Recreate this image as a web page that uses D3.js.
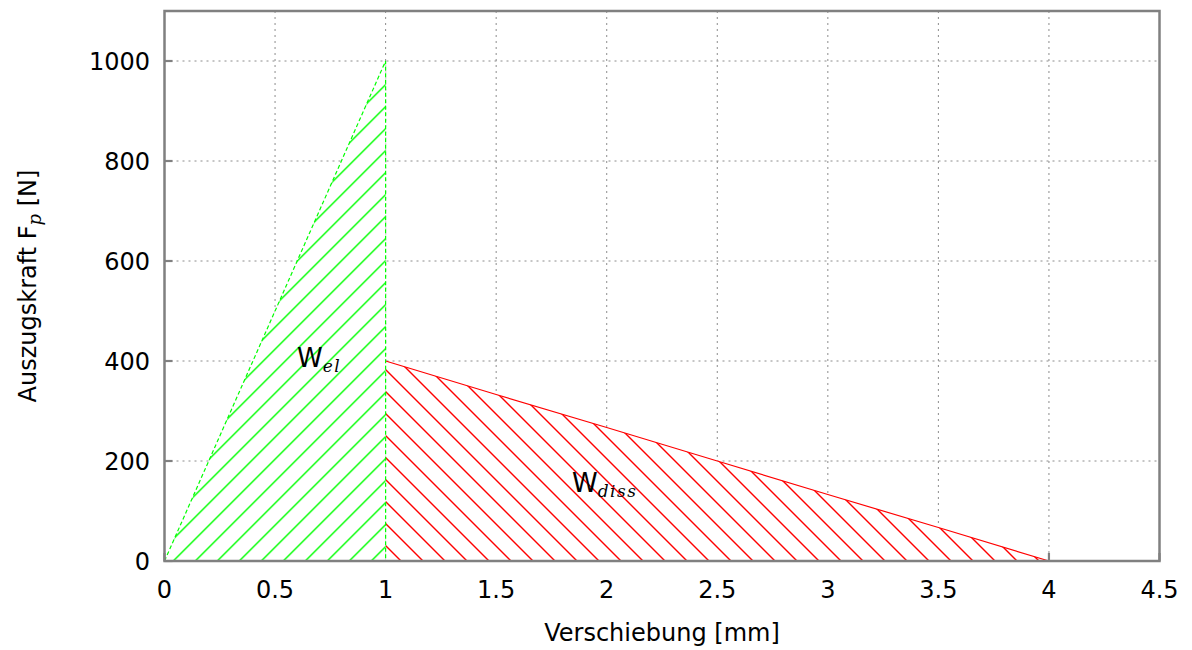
<!DOCTYPE html>
<html>
<head>
<meta charset="utf-8">
<script src="https://cdn.jsdelivr.net/npm/d3@7"></script>
<style>
  html, body { margin: 0; padding: 0; background: #fff; }
  svg { display: block; }
  text { font-family: "DejaVu Sans", sans-serif; fill: #000; }
</style>
</head>
<body>
<svg id="chart" width="1192" height="650"></svg>
<script>
// ---- data ----
const xTicks = [0, 0.5, 1, 1.5, 2, 2.5, 3, 3.5, 4, 4.5];
const xTickLabels = ["0", "0.5", "1", "1.5", "2", "2.5", "3", "3.5", "4", "4.5"];
const yTicks = [0, 200, 400, 600, 800, 1000];
const yTickLabels = ["0", "200", "400", "600", "800", "1000"];
// elastic part (green)
const elX = [0, 1, 1];
const elY = [0, 1000, 0];
// dissipative part (red)
const dissX = [1, 1.5, 2, 2.5, 3, 3.5, 4];
const dissY = [400, 333, 267, 200, 133, 67, 0];
const xLabel = "Verschiebung [mm]";
const yLabelMain = "Auszugskraft F";
const yLabelSub = "p";
const yLabelEnd = " [N]";

// ---- layout ----
const svg = d3.select("#chart");
const L = 164.5, R = 1159.5, T = 11, B = 561;
const x = d3.scaleLinear().domain([0, 4.5]).range([L, R]);
const y = d3.scaleLinear().domain([0, 1100]).range([B, T]);
const gray = "#808080";
const green = "#00ff00";
const red = "#ff0000";

// patterns
const defs = svg.append("defs");
const P = 22;
const pg = defs.append("pattern").attr("id", "hatchGreen")
  .attr("patternUnits", "userSpaceOnUse").attr("width", P).attr("height", P)
  .attr("patternTransform", "translate(8.3,0)");
[[-P/2, P/2, P/2, -P/2], [0, P, P, 0], [P/2, 3*P/2, 3*P/2, P/2]].forEach(s => {
  pg.append("line").attr("x1", s[0]).attr("y1", s[1]).attr("x2", s[2]).attr("y2", s[3])
    .attr("stroke", green).attr("stroke-width", 1.4);
});
const pr = defs.append("pattern").attr("id", "hatchRed")
  .attr("patternUnits", "userSpaceOnUse").attr("width", P).attr("height", P)
  .attr("patternTransform", "translate(16,0)");
[[-P/2, P/2, P/2, 3*P/2], [0, 0, P, P], [P/2, -P/2, 3*P/2, P/2]].forEach(s => {
  pr.append("line").attr("x1", s[0]).attr("y1", s[1]).attr("x2", s[2]).attr("y2", s[3])
    .attr("stroke", red).attr("stroke-width", 1.4);
});

// grid
const grid = svg.append("g");
xTicks.filter(v => v > 0 && v < 4.5).forEach(v => {
  grid.append("line").attr("x1", x(v)).attr("x2", x(v)).attr("y1", T).attr("y2", B)
    .attr("stroke", "#8c8c8c").attr("stroke-width", 1).attr("stroke-dasharray", "2,4");
});
yTicks.filter(v => v > 0).forEach(v => {
  grid.append("line").attr("x1", L).attr("x2", R).attr("y1", y(v)).attr("y2", y(v))
    .attr("stroke", "#8c8c8c").attr("stroke-width", 1).attr("stroke-dasharray", "2,4");
});

// ticks (inward)
const ticks = svg.append("g").attr("stroke", gray).attr("stroke-width", 2.2);
yTicks.forEach(v => ticks.append("line").attr("x1", L).attr("x2", L + 8).attr("y1", y(v)).attr("y2", y(v)));
xTicks.forEach(v => ticks.append("line").attr("x1", x(v)).attr("x2", x(v)).attr("y1", B).attr("y2", B - 8));

// areas
const line = d3.line().x(d => x(d[0])).y(d => y(d[1]));
const elPts = elX.map((v, i) => [v, elY[i]]);
const dissPts = dissX.map((v, i) => [v, dissY[i]]);
const dissPoly = [[1, 0]].concat(dissPts);

svg.append("path").attr("d", line(dissPoly) + "Z").attr("fill", "#fff");
svg.append("path").attr("d", line(dissPoly) + "Z").attr("fill", "url(#hatchRed)");
svg.append("path").attr("d", line(elPts) + "Z").attr("fill", "#fff");
svg.append("path").attr("d", line(elPts) + "Z").attr("fill", "url(#hatchGreen)");

// outlines
svg.append("path").attr("d", line(dissPts)).attr("fill", "none").attr("stroke", red).attr("stroke-width", 1.2);
svg.append("path").attr("d", line([[0, 0], [1, 0]])).attr("fill", "none").attr("stroke", red).attr("stroke-width", 1.2);
svg.append("path").attr("d", line([[0, 0], [1, 1000], [1, 0], [4, 0]])).attr("fill", "none")
  .attr("stroke", green).attr("stroke-width", 1.2).attr("stroke-dasharray", "4,2.5");

// frame
svg.append("rect").attr("x", L).attr("y", T).attr("width", R - L).attr("height", B - T)
  .attr("fill", "none").attr("stroke", gray).attr("stroke-width", 2.5);

// tick labels
xTicks.forEach((v, i) => {
  svg.append("text").attr("x", x(v)).attr("y", 598).attr("text-anchor", "middle")
    .attr("font-size", 24).text(xTickLabels[i]);
});
yTicks.forEach((v, i) => {
  svg.append("text").attr("x", 150).attr("y", y(v) + 8.5).attr("text-anchor", "end")
    .attr("font-size", 24).text(yTickLabels[i]);
});

// axis titles
svg.append("text").attr("x", (L + R) / 2).attr("y", 641).attr("text-anchor", "middle")
  .attr("font-size", 24).text(xLabel);
const yt = svg.append("text").attr("transform", `translate(36,${(T + B) / 2}) rotate(-90)`)
  .attr("text-anchor", "middle").attr("font-size", 24);
yt.append("tspan").text(yLabelMain);
yt.append("tspan").attr("dy", 5).attr("font-family", "DejaVu Serif").attr("font-style", "italic")
  .attr("font-size", 18).text(yLabelSub);
yt.append("tspan").attr("dy", -5).text(yLabelEnd);

// region labels
function areaLabel(px, py, sub) {
  const t = svg.append("text").attr("x", px).attr("y", py).attr("font-size", 26);
  t.append("tspan").text("W");
  t.append("tspan").attr("dy", 5).attr("font-family", "DejaVu Serif").attr("font-style", "italic")
    .attr("font-size", 17).attr("letter-spacing", 1.5).text(sub);
}
areaLabel(297, 367, "el");
areaLabel(572, 492, "diss");
</script>
</body>
</html>
